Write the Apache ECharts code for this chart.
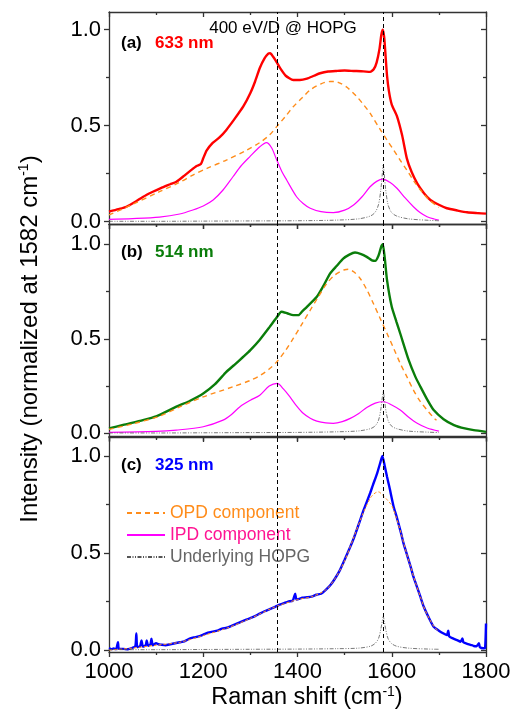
<!DOCTYPE html>
<html><head><meta charset="utf-8">
<script src="https://cdn.jsdelivr.net/npm/echarts@6/dist/echarts.min.js"></script>
<style>html,body{margin:0;padding:0;background:#fff}#c{width:512px;height:711px}</style>
</head><body><div id="c"></div><script>
// ---------- data ----------
const xTicks = [1000, 1200, 1400, 1600, 1800];
const yMajorTicks = [0, 0.5, 1.0];
const yMinorTicks = [0.25, 0.75];
const bandLines = [1357, 1582];
const panelLabels = ['(a)', '(b)', '(c)'];
const wavelengths = ['633 nm', '514 nm', '325 nm'];
const legendNames = ['OPD component', 'IPD component', 'Underlying HOPG'];

const a633Total = [[1000,0.052],[1020,0.065],[1037,0.078],[1060,0.11],[1080,0.14],[1093,0.156],[1110,0.175],[1130,0.195],[1143,0.208],[1160,0.24],[1175,0.27],[1186,0.29],[1195,0.3],[1200,0.33],[1207,0.37],[1220,0.41],[1235,0.44],[1249,0.478],[1265,0.53],[1285,0.6],[1300,0.67],[1310,0.73],[1320,0.8],[1330,0.85],[1338,0.875],[1342,0.877],[1348,0.86],[1356,0.83],[1363,0.8],[1375,0.76],[1391,0.738],[1405,0.738],[1420,0.745],[1435,0.76],[1448,0.773],[1465,0.782],[1483,0.785],[1500,0.787],[1519,0.785],[1540,0.783],[1554,0.78],[1562,0.795],[1568,0.83],[1574,0.9],[1578,0.975],[1581,1.0],[1584,0.96],[1587,0.86],[1590,0.76],[1594,0.68],[1600,0.61],[1611,0.55],[1622,0.45],[1632,0.33],[1642,0.26],[1654,0.2],[1668,0.15],[1682,0.113],[1700,0.088],[1717,0.07],[1740,0.058],[1760,0.049],[1780,0.045],[1800,0.042]];
const a633OPD = [[1000,0.035],[1050,0.09],[1107,0.156],[1150,0.205],[1178,0.243],[1210,0.28],[1249,0.321],[1290,0.37],[1320,0.412],[1340,0.45],[1356,0.495],[1375,0.55],[1391,0.599],[1410,0.645],[1427,0.686],[1450,0.718],[1469,0.73],[1480,0.73],[1490,0.722],[1505,0.7],[1526,0.651],[1540,0.61],[1554,0.565],[1576,0.478],[1590,0.425],[1604,0.373],[1618,0.32],[1632,0.269],[1646,0.215],[1661,0.165],[1677,0.12],[1693,0.087],[1700,0.075]];
const a633IPD = [[1000,0.012],[1050,0.016],[1107,0.024],[1150,0.04],[1178,0.061],[1200,0.082],[1221,0.113],[1242,0.165],[1263,0.234],[1280,0.29],[1299,0.339],[1320,0.39],[1334,0.412],[1345,0.385],[1356,0.321],[1367,0.26],[1377,0.217],[1398,0.13],[1412,0.095],[1427,0.07],[1450,0.052],[1476,0.047],[1500,0.06],[1519,0.087],[1537,0.13],[1554,0.182],[1568,0.21],[1581,0.222],[1596,0.205],[1611,0.174],[1628,0.125],[1646,0.078],[1660,0.048],[1675,0.026],[1690,0.014],[1700,0.009]];
const a633HOPG = [[1000,0.002],[1100,0.002],[1200,0.003],[1300,0.004],[1400,0.005],[1480,0.008],[1530,0.015],[1555,0.03],[1565,0.05],[1572,0.09],[1577,0.17],[1580,0.25],[1582,0.295],[1584,0.25],[1587,0.17],[1592,0.09],[1599,0.05],[1610,0.03],[1635,0.015],[1680,0.007],[1700,0.005]];

const b514Total = [[1000,0.026],[1030,0.045],[1072,0.07],[1100,0.09],[1143,0.141],[1170,0.17],[1200,0.211],[1225,0.26],[1249,0.325],[1265,0.36],[1285,0.405],[1300,0.44],[1320,0.495],[1341,0.563],[1355,0.61],[1366,0.643],[1378,0.635],[1391,0.625],[1402,0.625],[1410,0.645],[1420,0.669],[1441,0.722],[1455,0.78],[1469,0.845],[1483,0.885],[1497,0.924],[1510,0.945],[1522,0.956],[1535,0.948],[1547,0.933],[1558,0.915],[1565,0.912],[1572,0.94],[1578,0.99],[1581,1.0],[1585,0.93],[1590,0.81],[1600,0.669],[1610,0.59],[1618,0.528],[1636,0.387],[1650,0.3],[1661,0.246],[1675,0.18],[1689,0.123],[1710,0.075],[1732,0.044],[1755,0.026],[1774,0.017],[1800,0.008]];
const b514OPD = [[1000,0.021],[1050,0.05],[1107,0.091],[1150,0.14],[1200,0.193],[1263,0.246],[1300,0.28],[1320,0.305],[1340,0.34],[1356,0.378],[1375,0.44],[1391,0.502],[1410,0.58],[1427,0.651],[1445,0.725],[1462,0.792],[1478,0.835],[1490,0.854],[1500,0.865],[1508,0.868],[1520,0.853],[1533,0.819],[1547,0.76],[1561,0.687],[1575,0.61],[1590,0.528],[1604,0.45],[1618,0.37],[1632,0.3],[1646,0.229],[1660,0.17],[1675,0.123],[1690,0.08],[1695,0.07]];
const b514IPD = [[1000,0.005],[1100,0.01],[1143,0.017],[1200,0.035],[1242,0.07],[1260,0.1],[1278,0.141],[1300,0.175],[1320,0.202],[1340,0.25],[1357,0.264],[1370,0.235],[1384,0.193],[1398,0.145],[1412,0.106],[1427,0.08],[1441,0.065],[1460,0.055],[1476,0.053],[1495,0.062],[1512,0.079],[1530,0.105],[1547,0.137],[1565,0.16],[1583,0.167],[1600,0.15],[1618,0.123],[1636,0.085],[1654,0.053],[1675,0.028],[1700,0.012]];
const b514HOPG = [[1000,0.002],[1100,0.002],[1200,0.003],[1300,0.004],[1400,0.005],[1480,0.008],[1530,0.013],[1555,0.025],[1565,0.04],[1572,0.07],[1577,0.13],[1580,0.19],[1582,0.22],[1584,0.19],[1587,0.13],[1592,0.07],[1599,0.04],[1610,0.025],[1635,0.012],[1680,0.006],[1700,0.004]];

const c325Total = [[1000,0.01],[1005,0.005],[1010,0.008],[1015,0.004],[1019,0.04],[1021,0.006],[1030,0.006],[1040,0.004],[1050,0.012],[1056,0.02],[1058,0.086],[1060,0.015],[1066,0.02],[1069,0.05],[1072,0.018],[1078,0.025],[1080,0.05],[1083,0.022],[1088,0.03],[1090,0.058],[1093,0.025],[1100,0.035],[1105,0.03],[1110,0.028],[1120,0.025],[1130,0.03],[1140,0.035],[1150,0.04],[1160,0.045],[1170,0.058],[1180,0.065],[1190,0.07],[1200,0.08],[1210,0.09],[1220,0.095],[1230,0.1],[1240,0.11],[1250,0.115],[1260,0.125],[1270,0.135],[1280,0.145],[1290,0.155],[1300,0.165],[1310,0.175],[1320,0.188],[1330,0.2],[1340,0.21],[1350,0.22],[1360,0.232],[1370,0.24],[1380,0.25],[1390,0.255],[1395,0.29],[1398,0.26],[1405,0.265],[1410,0.27],[1420,0.272],[1430,0.275],[1440,0.285],[1450,0.29],[1460,0.31],[1470,0.335],[1480,0.37],[1490,0.412],[1500,0.465],[1512,0.532],[1520,0.58],[1533,0.67],[1540,0.72],[1554,0.808],[1560,0.85],[1569,0.911],[1575,0.96],[1580,1.0],[1585,0.95],[1590,0.893],[1595,0.84],[1604,0.739],[1610,0.69],[1620,0.6],[1625,0.55],[1630,0.51],[1640,0.43],[1646,0.378],[1650,0.35],[1660,0.28],[1668,0.223],[1680,0.16],[1689,0.12],[1700,0.1],[1710,0.085],[1717,0.077],[1720,0.1],[1722,0.07],[1730,0.06],[1740,0.05],[1746,0.043],[1750,0.06],[1752,0.04],[1760,0.032],[1770,0.025],[1774,0.021],[1780,0.02],[1785,0.035],[1787,0.015],[1795,0.009],[1798,0.01],[1800,0.137]];
const c325OPD = [[1000,0.0],[1050,0.01],[1100,0.025],[1150,0.04],[1200,0.075],[1250,0.113],[1300,0.163],[1350,0.22],[1400,0.26],[1430,0.275],[1460,0.31],[1480,0.37],[1500,0.46],[1520,0.585],[1540,0.71],[1555,0.785],[1565,0.81],[1572,0.815],[1580,0.8],[1590,0.775],[1600,0.745],[1610,0.68],[1620,0.6],[1630,0.51],[1640,0.43],[1650,0.35],[1660,0.28],[1670,0.21],[1680,0.16],[1690,0.12],[1700,0.095]];
const c325HOPG = [[1000,0.002],[1100,0.002],[1200,0.003],[1300,0.004],[1400,0.005],[1480,0.007],[1530,0.01],[1555,0.02],[1565,0.035],[1572,0.06],[1577,0.11],[1580,0.15],[1582,0.172],[1584,0.15],[1587,0.11],[1592,0.06],[1599,0.035],[1610,0.02],[1635,0.01],[1680,0.005],[1700,0.004]];

// ---------- layout / style ----------
const FONT = 'Liberation Sans, Arial, sans-serif';
const layout = [
  {top: 12, height: 212, min: -0.012, max: 1.092, labelY: 43},
  {top: 224, height: 212, min: -0.014, max: 1.107, labelY: 252},
  {top: 437, height: 215, min: -0.010, max: 1.098, labelY: 465}
];
const panelColors = ['#FF0000', '#0A7D0A', '#0000FF'];
const panels = [
  {total: a633Total, opd: a633OPD, ipd: a633IPD, hopg: a633HOPG},
  {total: b514Total, opd: b514OPD, ipd: b514IPD, hopg: b514HOPG},
  {total: c325Total, opd: c325OPD, ipd: null, hopg: c325HOPG}
];
const frame = {color: '#333', width: 1.3};

const grids = [], xAxes = [], yAxes = [], series = [];
layout.forEach((L, i) => {
  grids.push({left: 109, width: 377, top: L.top, height: L.height, containLabel: false, outerBoundsMode: 'none'});
  const isLast = i === 2;
  xAxes.push({
    gridIndex: i, type: 'value', min: 1000, max: 1800, interval: 200, position: 'bottom',
    axisLine: {show: true, onZero: false, lineStyle: frame},
    axisTick: {show: true, inside: false, length: 5, lineStyle: frame},
    minorTick: {show: true, splitNumber: 2, length: 3, lineStyle: frame},
    splitLine: {show: false}, minorSplitLine: {show: false},
    axisLabel: {show: isLast, customValues: xTicks, formatter: v => String(v), color: '#000', fontSize: 22, fontFamily: FONT, margin: 9}
  });
  xAxes.push({
    gridIndex: i, type: 'value', min: 1000, max: 1800, interval: 200, position: 'top',
    axisLine: {show: true, onZero: false, lineStyle: frame},
    axisTick: {show: true, inside: true, length: 5, lineStyle: frame},
    minorTick: {show: true, splitNumber: 2, length: 3, lineStyle: frame},
    splitLine: {show: false}, axisLabel: {show: false}
  });
  const yBase = {gridIndex: i, type: 'value', min: L.min, max: L.max, splitLine: {show: false}};
  yAxes.push(Object.assign({}, yBase, {
    position: 'left',
    axisLine: {show: true, onZero: false, lineStyle: frame},
    axisTick: {show: true, inside: false, length: 5, customValues: yMajorTicks, lineStyle: frame},
    axisLabel: {show: true, customValues: yMajorTicks, formatter: v => v.toFixed(1), color: '#000', fontSize: 22, fontFamily: FONT, margin: 8}
  }));
  yAxes.push(Object.assign({}, yBase, {
    position: 'left',
    axisLine: {show: false},
    axisTick: {show: true, inside: false, length: 3, customValues: yMinorTicks, lineStyle: frame},
    axisLabel: {show: false}
  }));
  yAxes.push(Object.assign({}, yBase, {
    position: 'right',
    axisLine: {show: true, onZero: false, lineStyle: frame},
    axisTick: {show: true, inside: true, length: 5, customValues: yMajorTicks, lineStyle: frame},
    axisLabel: {show: false}
  }));
  yAxes.push(Object.assign({}, yBase, {
    position: 'right',
    axisLine: {show: false},
    axisTick: {show: true, inside: true, length: 3, customValues: yMinorTicks, lineStyle: frame},
    axisLabel: {show: false}
  }));

  const P = panels[i];
  const common = {type: 'line', xAxisIndex: 2 * i, yAxisIndex: 4 * i, symbol: 'none', showSymbol: false, animation: false, silent: true};
  series.push(Object.assign({}, common, {
    name: wavelengths[i], data: P.total, smooth: 0.2, z: 2,
    lineStyle: {color: panelColors[i], width: 2.4}, itemStyle: {color: panelColors[i]}
  }));
  series.push(Object.assign({}, common, {
    name: legendNames[0], data: P.opd, smooth: 0.3, z: 3,
    lineStyle: {color: '#FF8C1A', width: isLast ? 1.0 : 1.4, type: isLast ? [3, 2] : [5, 4]}, itemStyle: {color: '#FF8C1A'}
  }));
  if (P.ipd) {
    series.push(Object.assign({}, common, {
      name: legendNames[1], data: P.ipd, smooth: 0.3, z: 3,
      lineStyle: {color: '#FF00FF', width: 1.2}, itemStyle: {color: '#FF00FF'}
    }));
  }
  series.push(Object.assign({}, common, {
    name: legendNames[2], data: P.hopg, smooth: 0.3, z: 3,
    lineStyle: {color: '#555', width: 0.8, type: [4, 1.5, 1, 1.5, 1, 1.5]}, itemStyle: {color: '#555'},
    markLine: {
      silent: true, symbol: 'none', animation: false,
      label: {show: false},
      lineStyle: {color: '#000', width: 1, type: [4, 3]},
      data: bandLines.map(v => ({xAxis: v}))
    }
  }));
});

const graphics = [];
layout.forEach((L, i) => {
  graphics.push({type: 'text', x: 121, y: L.labelY, z: 10, style: {text: panelLabels[i], fill: '#000', fontSize: 17, fontWeight: 'bold', fontFamily: FONT, verticalAlign: 'middle'}});
  graphics.push({type: 'text', x: 155, y: L.labelY, z: 10, style: {text: wavelengths[i], fill: panelColors[i], fontSize: 17, fontWeight: 'bold', fontFamily: FONT, verticalAlign: 'middle'}});
});
graphics.push({type: 'text', x: 283, y: 28, z: 10, style: {text: '400 eV/D @ HOPG', fill: '#000', fontSize: 17, fontFamily: FONT, align: 'center', verticalAlign: 'middle'}});
graphics.push({type: 'text', x: 30, y: 339, rotation: Math.PI / 2, z: 10, style: {
  text: '{a|Intensity (normalized at 1582 cm}{s|-1}{a|)}', align: 'center', verticalAlign: 'middle',
  rich: {a: {fontSize: 24, fontFamily: FONT, color: '#000'}, s: {fontSize: 14, fontFamily: FONT, color: '#000', padding: [0, 0, 11, 0]}}
}});
graphics.push({type: 'text', x: 307, y: 698, z: 10, style: {
  text: '{a|Raman shift (cm}{s|-1}{a|)}', align: 'center', verticalAlign: 'middle',
  rich: {a: {fontSize: 23.5, fontFamily: FONT, color: '#000'}, s: {fontSize: 14, fontFamily: FONT, color: '#000', padding: [0, 0, 11, 0]}}
}});

const option = {
  animation: false,
  backgroundColor: '#fff',
  textStyle: {fontFamily: FONT},
  grid: grids, xAxis: xAxes, yAxis: yAxes, series: series,
  legend: {
    orient: 'vertical', left: 121, top: 499, itemWidth: 38, itemHeight: 12, itemGap: 4,
    selectedMode: false,
    itemStyle: {opacity: 0},
    textStyle: {fontSize: 17.5, fontFamily: FONT, lineHeight: 18},
    data: [
      {name: legendNames[0], textStyle: {color: '#FF8C1A'}},
      {name: legendNames[1], textStyle: {color: '#FF1493'}},
      {name: legendNames[2], textStyle: {color: '#666'}}
    ]
  },
  graphic: graphics
};
const chart = echarts.init(document.getElementById('c'));
chart.setOption(option);
</script></body></html>
